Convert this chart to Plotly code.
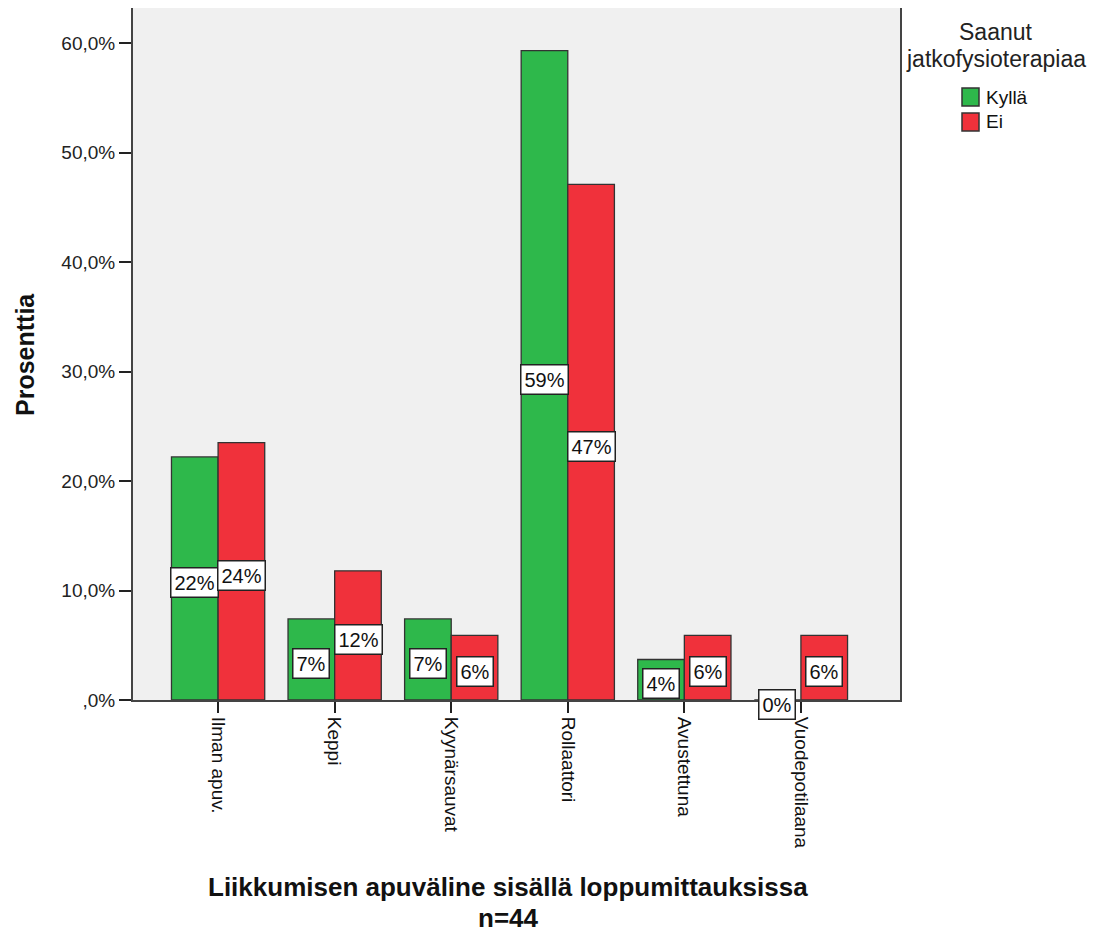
import plotly.graph_objects as go

categories = ["Ilman apuv.", "Keppi", "Kyynärsauvat", "Rollaattori", "Avustettuna", "Vuodepotilaana"]
kylla = [22.2, 7.4, 7.4, 59.3, 3.7, 0.0]
ei = [23.5, 11.8, 5.9, 47.1, 5.9, 5.9]
series_names = ["Kyllä", "Ei"]
legend_title = ["Saanut", "jatkofysioterapiaa"]
x_title = ["Liikkumisen apuväline sisällä loppumittauksissa", "n=44"]
y_title = "Prosenttia"
y_tickvals = [0, 10, 20, 30, 40, 50, 60]
y_ticktext = [",0%", "10,0%", "20,0%", "30,0%", "40,0%", "50,0%", "60,0%"]

colors = ["#2eb84b", "#f0313b"]
FONT = "Liberation Sans, Arial, sans-serif"

# layout geometry (figure px; page body adds 8px offset)
L, T, PW, PH = 125, 0, 767, 692
W, H = 1105, 936


def px(sx):  # screen x -> paper x
    return (sx - 8 - L) / PW


def py(sy):  # screen y -> paper y
    return (PH + T - (sy - 8)) / PH


fig = go.Figure()
for name, vals, col in zip(series_names, [kylla, ei], colors):
    fig.add_trace(go.Bar(
        x=categories, y=vals, name=name, showlegend=False,
        marker=dict(color=col, line=dict(color="#333333", width=1.3)),
        hoverinfo="x+y",
    ))

annotations = []
for vals, shift in [(kylla, -23.5), (ei, 23.5)]:
    for c, v in zip(categories, vals):
        annotations.append(dict(
            x=c, y=v / 2, xref="x", yref="y", xshift=shift, yshift=-4,
            text=f"{round(v)}%", showarrow=False,
            font=dict(family=FONT, size=20, color="#111111"),
            bgcolor="white", bordercolor="#222222", borderwidth=1.5, borderpad=3,
        ))

# axis titles
annotations.append(dict(
    x=px(25), y=py(355), xref="paper", yref="paper", text=f"<b>{y_title}</b>",
    textangle=-90, showarrow=False, xanchor="center", yanchor="middle",
    font=dict(family=FONT, size=25, color="#111111")))
for line, sy in zip(x_title, [887, 918]):
    annotations.append(dict(
        x=px(508), y=py(sy), xref="paper", yref="paper", text=f"<b>{line}</b>",
        showarrow=False, xanchor="center", yanchor="middle", borderpad=0,
        font=dict(family=FONT, size=26, color="#111111")))

# legend (drawn manually)
for line, sy in zip(legend_title, [32, 59]):
    annotations.append(dict(
        x=px(996), y=py(sy), xref="paper", yref="paper", text=line,
        showarrow=False, xanchor="center", yanchor="middle", borderpad=0,
        font=dict(family=FONT, size=23, color="#222222")))
shapes = []
for name, col, sy in zip(series_names, colors, [97, 122]):
    shapes.append(dict(
        type="rect", xref="paper", yref="paper",
        x0=px(962), x1=px(979), y0=py(sy + 9), y1=py(sy - 9),
        fillcolor=col, line=dict(color="#333333", width=1.5)))
    annotations.append(dict(
        x=px(984), y=py(sy), xref="paper", yref="paper", text=name,
        showarrow=False, xanchor="left", yanchor="middle",
        font=dict(family=FONT, size=19, color="#111111")))

fig.update_layout(
    width=W, height=H,
    margin=dict(l=L, r=W - L - PW, t=T, b=H - T - PH, autoexpand=False),
    paper_bgcolor="white", plot_bgcolor="#f0f0f0",
    barmode="group", bargap=0.2, bargroupgap=0,
    font=dict(family=FONT, size=19, color="#222222"),
    annotations=annotations, shapes=shapes,
    showlegend=False,
    xaxis=dict(
        type="category", range=[-0.73, 5.85], automargin=False,
        tickangle=90, ticks="outside", ticklen=11, tickwidth=1.5, tickcolor="#222222",
        tickfont=dict(family=FONT, size=19, color="#111111"),
        showline=True, linecolor="#444444", linewidth=2, mirror=True,
        showgrid=False,
    ),
    yaxis=dict(
        range=[0, 63.2], tickvals=y_tickvals, ticktext=y_ticktext, automargin=False,
        ticks="outside", ticklen=12, tickwidth=1.5, tickcolor="#222222",
        tickfont=dict(family=FONT, size=19, color="#222222"),
        showline=True, linecolor="#444444", linewidth=2, mirror=True,
        showgrid=False, zeroline=False,
    ),
)

fig.write_html("out.html")
